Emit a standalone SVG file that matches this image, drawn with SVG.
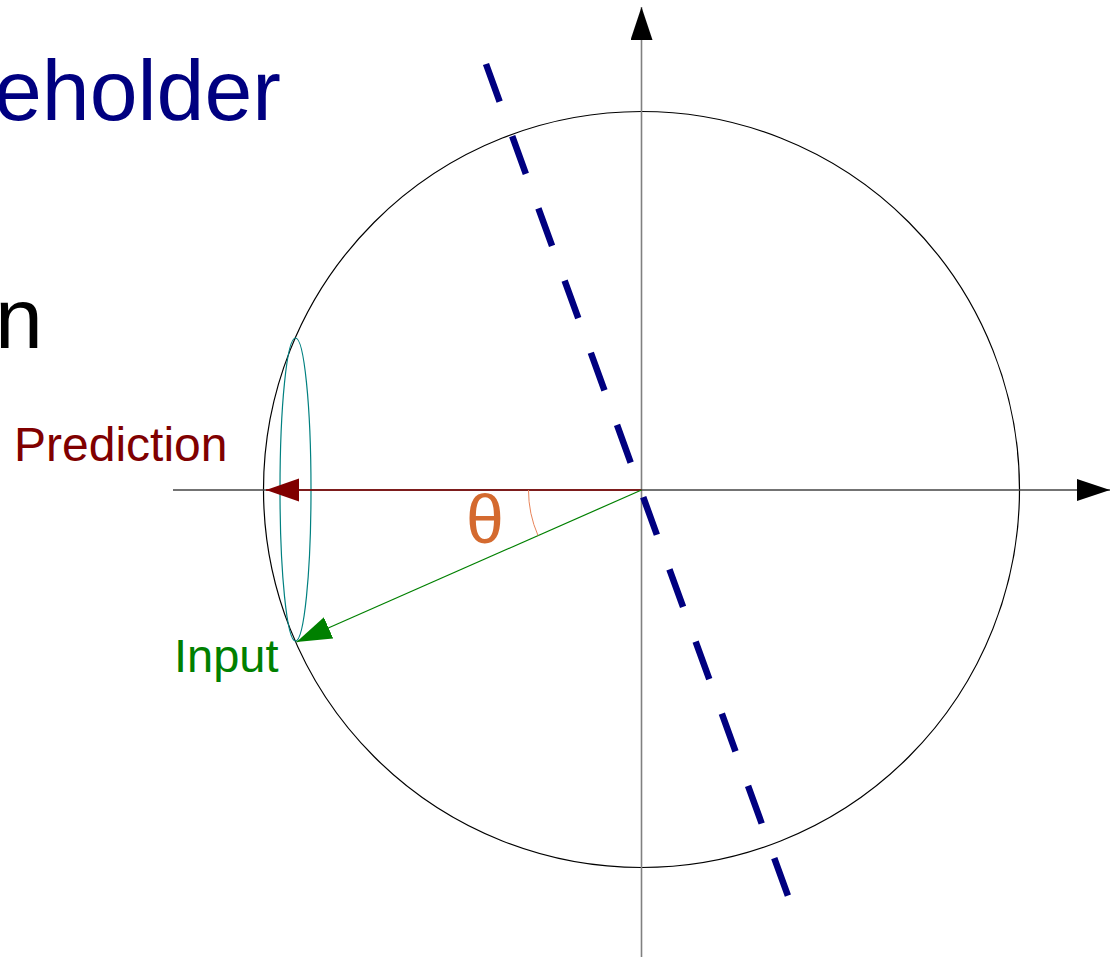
<svg xmlns="http://www.w3.org/2000/svg" width="1111" height="957" viewBox="0 0 1111 957">
<style>
.big{font-family:"Liberation Sans",Arial,sans-serif;font-size:86px}
.lbl{font-family:"Liberation Sans",Arial,sans-serif;font-size:47px}
</style>
<defs>
<marker id="ahBlack" markerUnits="userSpaceOnUse" markerWidth="34" markerHeight="22" refX="33" refY="11" orient="auto"><path d="M0,0 L33,11 L0,22 z" fill="#000"/></marker>
<marker id="ahRed" markerUnits="userSpaceOnUse" markerWidth="34" markerHeight="24" refX="33" refY="11.5" orient="auto"><path d="M0,0 L33,11.5 L0,23 z" fill="#800000"/></marker>
<marker id="ahGreen" markerUnits="userSpaceOnUse" markerWidth="36" markerHeight="24" refX="35" refY="11.5" orient="auto"><path d="M0,0 L35,11.5 L0,23 z" fill="#008000"/></marker>
</defs>
<rect width="1111" height="957" fill="#fff"/>
<g id="title">
<text class="big" x="-6" y="120" fill="#000080">eholder</text>
<text class="big" x="-5" y="348" fill="#000">n</text>
</g>
<g id="circle">
<circle cx="641.5" cy="489.5" r="378" fill="none" stroke="#000" stroke-width="1.2"/>
</g>
<g id="cone">
<ellipse cx="295.5" cy="489.5" rx="15.5" ry="151.5" fill="none" stroke="#008080" stroke-width="1.2"/>
</g>
<g id="connectors">
<line x1="641.5" y1="957" x2="641.5" y2="7" stroke="#808080" stroke-width="1.6" marker-end="url(#ahBlack)"/>
<line x1="173" y1="490" x2="1110" y2="490" stroke="#444" stroke-width="1.3" marker-end="url(#ahBlack)"/>
<line x1="641.5" y1="490" x2="266" y2="490" stroke="#800000" stroke-width="1.3" marker-end="url(#ahRed)"/>
<line x1="641.5" y1="490" x2="296.5" y2="642" stroke="#008000" stroke-width="1.2" marker-end="url(#ahGreen)"/>
<path d="M528.5,490 A113,113 0 0 0 538,535.5" fill="none" stroke="#e8845a" stroke-width="1"/>
<line x1="486" y1="64" x2="788" y2="896" stroke="#000080" stroke-width="6.5" stroke-dasharray="40 36.8"/>
</g>
<g id="labels">
<text class="lbl" x="14" y="461" fill="#800000" style="font-size:48px">Prediction</text>
<text class="lbl" x="174" y="672" fill="#008000">Input</text>
<text class="lbl" x="485" y="543" fill="#d46a2f" text-anchor="middle" style="font-size:68px">θ</text>
</g>
</svg>
